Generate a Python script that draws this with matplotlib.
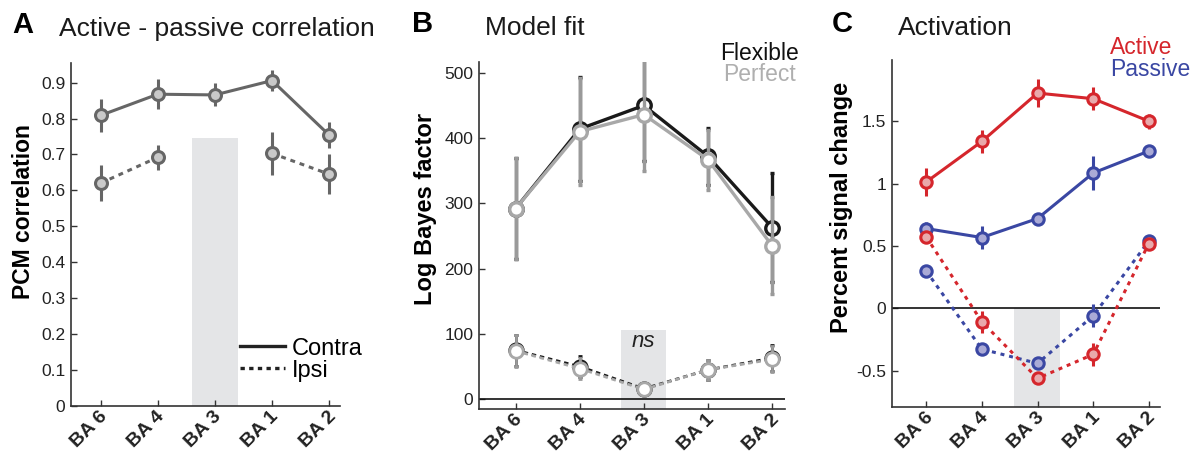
"""Recreate the three-panel BA figure (correlation, model fit, activation)."""

import numpy as np
import matplotlib
matplotlib.use('Agg')
import matplotlib.pyplot as plt
import matplotlib.transforms as mtransforms
from matplotlib.lines import Line2D

plt.rcParams['font.family'] = ['Liberation Sans', 'DejaVu Sans']

areas = ['BA 6', 'BA 4', 'BA 3', 'BA 1', 'BA 2']

# panel A: PCM correlation
corr_contra = [0.809, 0.868, 0.866, 0.906, 0.754]
corr_contra_err = [0.047, 0.042, 0.032, 0.030, 0.037]
corr_ipsi = [0.620, 0.692, np.nan, 0.703, 0.645]
corr_ipsi_err = [0.050, 0.035, np.nan, 0.061, 0.056]

# panel B: log Bayes factor
flex_contra = [292, 414, 450, 372, 263]
flex_contra_err = [77, 79, 85, 44, 83]
perf_contra = [292, 410, 436, 367, 235]
perf_contra_err = [77, 82, 86, 46, 74]
flex_ipsi = [75, 50, 16, 45, 63]
flex_ipsi_err = [24, 16, 7, 15, 20]
perf_ipsi = [74, 47, 15, 45, 61]
perf_ipsi_err = [24, 16, 7, 15, 20]

# panel C: percent signal change
active_contra = [1.013, 1.338, 1.725, 1.680, 1.500]
active_contra_err = [0.110, 0.095, 0.110, 0.090, 0.060]
passive_contra = [0.640, 0.568, 0.720, 1.085, 1.261]
passive_contra_err = [0.050, 0.090, 0.040, 0.137, 0.040]
active_ipsi = [0.573, -0.107, -0.560, -0.368, 0.520]
active_ipsi_err = [0.040, 0.087, 0.030, 0.094, 0.040]
passive_ipsi = [0.300, -0.326, -0.440, -0.059, 0.540]
passive_ipsi_err = [0.040, 0.030, 0.030, 0.093, 0.050]

W, H = 1196, 457
x = np.arange(1, 6)

RED = '#D5262C'
RED_FILL = '#E9A9AB'
BLUE = '#3A47A3'
BLUE_FILL = '#AAAAD6'
GRAY = '#666666'
GRAY_FILL = '#C9C9C9'
SHADE = '#E4E5E7'


def px_axes(left, top, right, bottom):
    """Axes from pixel box of the reference image."""
    return [left / W, 1 - bottom / H, (right - left) / W, (bottom - top) / H]


def style_axes(ax, xlim, ylim):
    ax.set_xlim(*xlim)
    ax.set_ylim(*ylim)
    for side in ['top', 'right']:
        ax.spines[side].set_visible(False)
    for side in ['left', 'bottom']:
        ax.spines[side].set_color('#333333')
        ax.spines[side].set_linewidth(1.2)
    ax.tick_params(direction='in', length=4, width=1, color='#333333',
                   labelsize=12.5, labelcolor='#222222', pad=4)
    ax.set_xticks(x)
    ax.set_xticklabels(areas, rotation=45, ha='right', va='center',
                       rotation_mode='anchor', fontweight='bold', fontsize=14)
    ax.tick_params(axis='x', pad=6)
    shift = mtransforms.ScaledTranslation(4 / 100, 0, ax.figure.dpi_scale_trans)
    for lab in ax.get_xticklabels():
        lab.set_transform(lab.get_transform() + shift)


def series(ax, y, err, color, fill, ls='-', ms=8.6, lw=2.2, capsize=0,
           ecolor=None, dashes=None, z=3):
    ax.errorbar(x, y, yerr=err, fmt='none', ecolor=ecolor or color,
                elinewidth=lw, capsize=capsize, capthick=lw, zorder=z)
    line, = ax.plot(x, y, ls=ls, color=color, lw=lw, marker='o', ms=ms,
                    mfc=fill, mec=color, mew=lw, zorder=z + 0.5)
    if dashes is not None:
        line.set_dashes(dashes)


def panel_label(fig, letter, title, lx, tx, base):
    fig.text(lx / W, 1 - base / H, letter, fontsize=21, fontweight='bold',
             va='baseline', ha='left')
    fig.text(tx / W, 1 - (base + 3) / H, title, fontsize=19, va='baseline',
             ha='left', color='#1a1a1a')


def ylabel(ax, text, xf, yf, size=17):
    ax.text(xf, yf, text, transform=ax.transAxes, rotation=90, ha='center',
            va='center', fontsize=size, fontweight='bold')


def panel_a(fig):
    ax = fig.add_axes(px_axes(71, 63, 340, 405.5))
    style_axes(ax, (0.48, 5.19), (0, 0.955))
    ax.fill_between([2.6, 3.4], 0, 0.745, color=SHADE, lw=0, zorder=1)
    series(ax, corr_contra, corr_contra_err, GRAY, GRAY_FILL)
    series(ax, corr_ipsi, corr_ipsi_err, GRAY, GRAY_FILL, dashes=(1.6, 1.6))
    ax.set_yticks(np.arange(0, 1.0, 0.1))
    ax.set_yticklabels(['0'] + [f'{v:.1f}' for v in np.arange(0.1, 1.0, 0.1)])
    handles = [Line2D([], [], color='#222222', lw=2.4),
               Line2D([], [], color='#222222', lw=2.4, dashes=(1.3, 1.3))]
    ax.legend(handles, ['Contra', 'Ipsi'], loc='lower right',
              bbox_to_anchor=(1.12, 0.042), frameon=False, fontsize=17,
              handlelength=1.9, handletextpad=0.3, labelspacing=0.0,
              borderaxespad=0)
    ylabel(ax, 'PCM correlation', -0.176, 0.566, size=16.5)
    panel_label(fig, 'A', 'Active - passive correlation', 12, 59, 33)


def panel_b(fig):
    ax = fig.add_axes(px_axes(479, 61.7, 785, 409))
    style_axes(ax, (0.43, 5.2), (-15, 517))
    ax.fill_between([2.65, 3.35], -15, 106, color=SHADE, lw=0, zorder=1)
    ax.axhline(0, color='#111111', lw=1.2, zorder=2)
    black = '#1a1a1a'
    light = '#A8A8A8'
    bar = '#9A9A9A'
    series(ax, flex_contra, flex_contra_err, black, 'white', ms=9.7, lw=2.4,
           capsize=1.5, z=3)
    series(ax, perf_contra, perf_contra_err, light, 'white', ms=9.7, lw=2.4,
           capsize=1.5, ecolor=bar, z=5)
    series(ax, flex_ipsi, flex_ipsi_err, black, 'white', ms=9.7, lw=2.0,
           capsize=1.5, dashes=(1.6, 1.4), z=3)
    series(ax, perf_ipsi, perf_ipsi_err, light, 'white', ms=9.7, lw=2.0,
           capsize=1.5, ecolor=bar, dashes=(1.6, 1.4), z=5)
    ax.text(3, 88, 'ns', ha='center', va='center', fontsize=16,
            style='italic', color='#222222', zorder=6)
    ax.set_yticks(np.arange(0, 501, 100))
    ax.text(0.788, 1.006, 'Flexible', transform=ax.transAxes, fontsize=16.5,
            color='#111111', va='baseline')
    ax.text(0.797, 0.945, 'Perfect', transform=ax.transAxes, fontsize=16.5,
            color='#AFAFAF', va='baseline')
    ylabel(ax, 'Log Bayes factor', -0.176, 0.575)
    panel_label(fig, 'B', 'Model fit', 412, 485, 32)


def panel_c(fig):
    ax = fig.add_axes(px_axes(891.7, 60, 1160, 406.7))
    style_axes(ax, (0.38, 5.2), (-0.787, 1.99))
    ax.fill_between([2.58, 3.41], -0.787, 0, color=SHADE, lw=0, zorder=1)
    ax.axhline(0, color='#111111', lw=1.2, zorder=2)
    series(ax, passive_contra, passive_contra_err, BLUE, BLUE_FILL, ms=8.2)
    series(ax, passive_ipsi, passive_ipsi_err, BLUE, BLUE_FILL, ms=8.2,
           dashes=(1.3, 1.6))
    series(ax, active_contra, active_contra_err, RED, RED_FILL, ms=8.2, z=5)
    series(ax, active_ipsi, active_ipsi_err, RED, RED_FILL, ms=8.2,
           dashes=(1.3, 1.6), z=5)
    ax.set_yticks([-0.5, 0, 0.5, 1, 1.5])
    ax.set_yticklabels(['-0.5', '0', '0.5', '1', '1.5'])
    ax.text(0.814, 1.017, 'Active', transform=ax.transAxes, fontsize=16.5,
            color=RED, va='baseline')
    ax.text(0.814, 0.955, 'Passive', transform=ax.transAxes, fontsize=16.5,
            color=BLUE, va='baseline')
    ylabel(ax, 'Percent signal change', -0.186, 0.575)
    panel_label(fig, 'C', 'Activation', 832, 898, 32)


def main():
    fig = plt.figure(figsize=(W / 100, H / 100), dpi=100)
    panel_a(fig)
    panel_b(fig)
    panel_c(fig)
    fig.savefig('out.png', dpi=100)


if __name__ == '__main__':
    main()
